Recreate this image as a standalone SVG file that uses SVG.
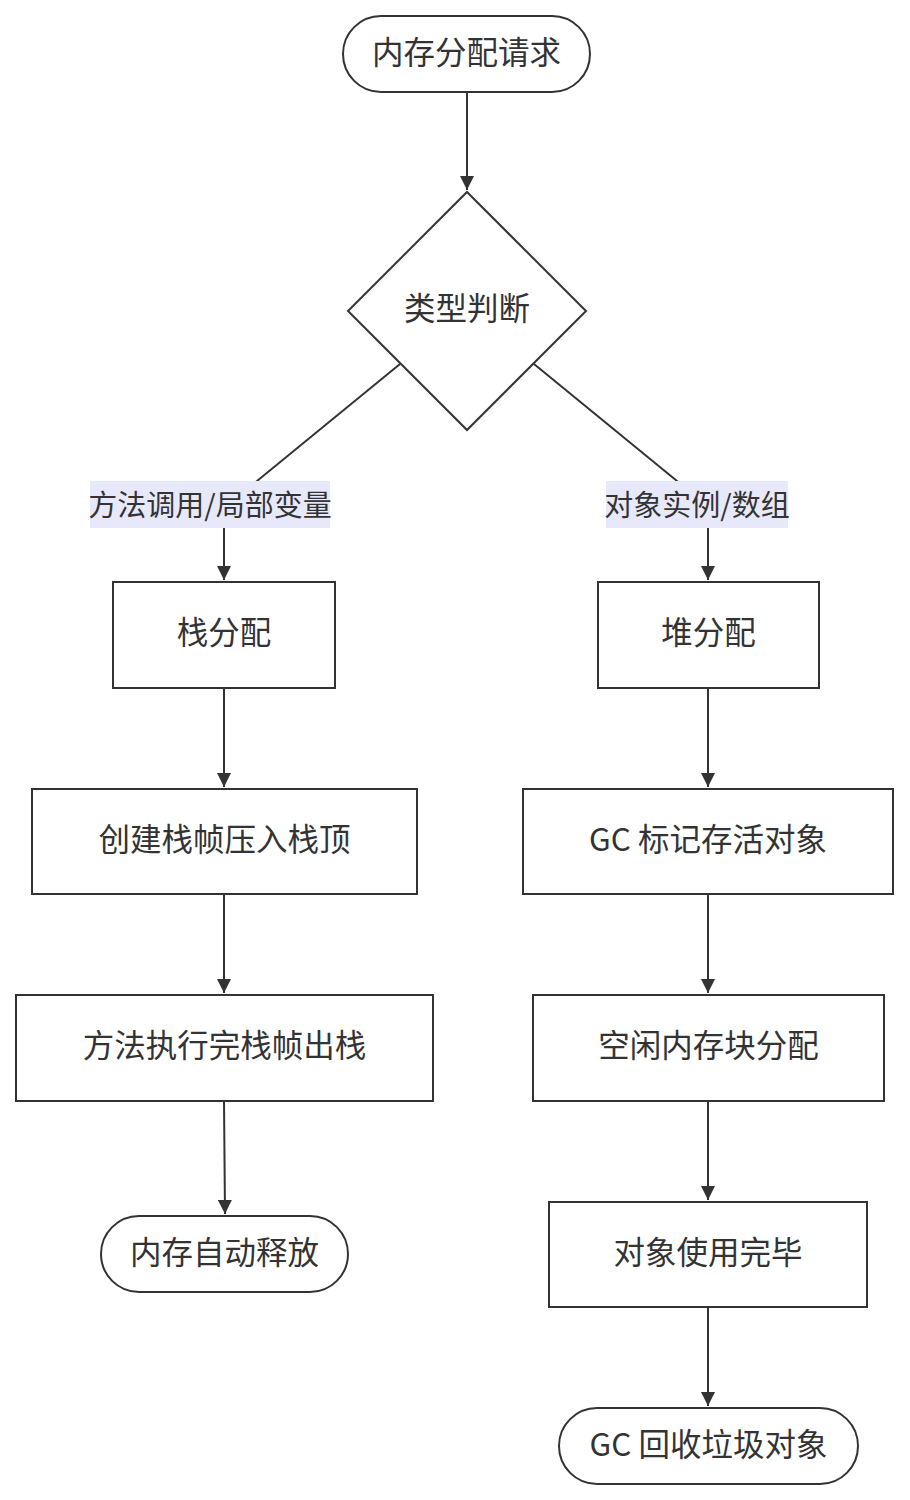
<svg xmlns="http://www.w3.org/2000/svg" width="910" height="1500" viewBox="0 0 910 1500">
<defs>
<marker id="arrow" viewBox="0 0 10 10" refX="10" refY="5" markerWidth="7" markerHeight="7" markerUnits="strokeWidth" orient="auto">
<path d="M0,0 L10,5 L0,10 z" fill="#333"/>
</marker>
<style>
.node rect,.node polygon{fill:#fff;stroke:#333;stroke-width:2}
.node text{font-family:"Noto Sans CJK SC","Noto Sans",sans-serif;font-size:31.5px;fill:#333;text-anchor:middle;dominant-baseline:central}
.edge{fill:none;stroke:#333;stroke-width:2}
.lbl rect{fill:#e8e8fb}
.lbl text{font-family:"Noto Sans CJK SC","Noto Sans",sans-serif;font-size:29px;fill:#333;text-anchor:middle;dominant-baseline:central}
</style>
</defs>
<rect width="910" height="1500" fill="#fff"/>
<g id="connectors">
<path class="edge" d="M467,92 L467,190" marker-end="url(#arrow)"/>
<path class="edge" d="M400,364 L257,481 Q224,505 224,528 L224,580" marker-end="url(#arrow)"/>
<path class="edge" d="M534,364 L677,481 Q708,505 708,528 L708,580" marker-end="url(#arrow)"/>
<path class="edge" d="M224,688 L224,787" marker-end="url(#arrow)"/>
<path class="edge" d="M224,894 L224,993" marker-end="url(#arrow)"/>
<path class="edge" d="M224,1101 L225,1214" marker-end="url(#arrow)"/>
<path class="edge" d="M708,688 L708,787" marker-end="url(#arrow)"/>
<path class="edge" d="M708,894 L708,993" marker-end="url(#arrow)"/>
<path class="edge" d="M708,1101 L708,1200" marker-end="url(#arrow)"/>
<path class="edge" d="M708,1307 L708,1406" marker-end="url(#arrow)"/>
<g class="lbl" id="label-left"><rect x="90" y="481" width="240" height="47"/><text x="210" y="503">方法调用/局部变量</text></g>
<g class="lbl" id="label-right"><rect x="606" y="481" width="182" height="47"/><text x="697" y="503">对象实例/数组</text></g>
</g>
<g class="node" id="start"><rect x="343" y="16" width="247" height="76" rx="38" ry="38"/><text x="466.5" y="50">内存分配请求</text></g>
<g class="node" id="decide"><polygon points="467,192 586,311 467,430 348,311"/><text x="467" y="306">类型判断</text></g>
<g class="node" id="stack"><rect x="113" y="582" width="222" height="106"/><text x="224" y="630">栈分配</text></g>
<g class="node" id="heap"><rect x="598" y="582" width="221" height="106"/><text x="708.5" y="630">堆分配</text></g>
<g class="node" id="push"><rect x="32" y="789" width="385" height="105"/><text x="224.5" y="837">创建栈帧压入栈顶</text></g>
<g class="node" id="mark"><rect x="523" y="789" width="370" height="105"/><text x="708" y="837">GC 标记存活对象</text></g>
<g class="node" id="pop"><rect x="16" y="995" width="417" height="106"/><text x="224.5" y="1043">方法执行完栈帧出栈</text></g>
<g class="node" id="alloc"><rect x="533" y="995" width="351" height="106"/><text x="708.5" y="1043">空闲内存块分配</text></g>
<g class="node" id="release"><rect x="101" y="1216" width="247" height="76" rx="38" ry="38"/><text x="224.5" y="1250">内存自动释放</text></g>
<g class="node" id="done"><rect x="549" y="1202" width="318" height="105"/><text x="708" y="1250">对象使用完毕</text></g>
<g class="node" id="gc"><rect x="559" y="1408" width="299" height="76" rx="38" ry="38"/><text x="708.5" y="1442">GC 回收垃圾对象</text></g>
</svg>
